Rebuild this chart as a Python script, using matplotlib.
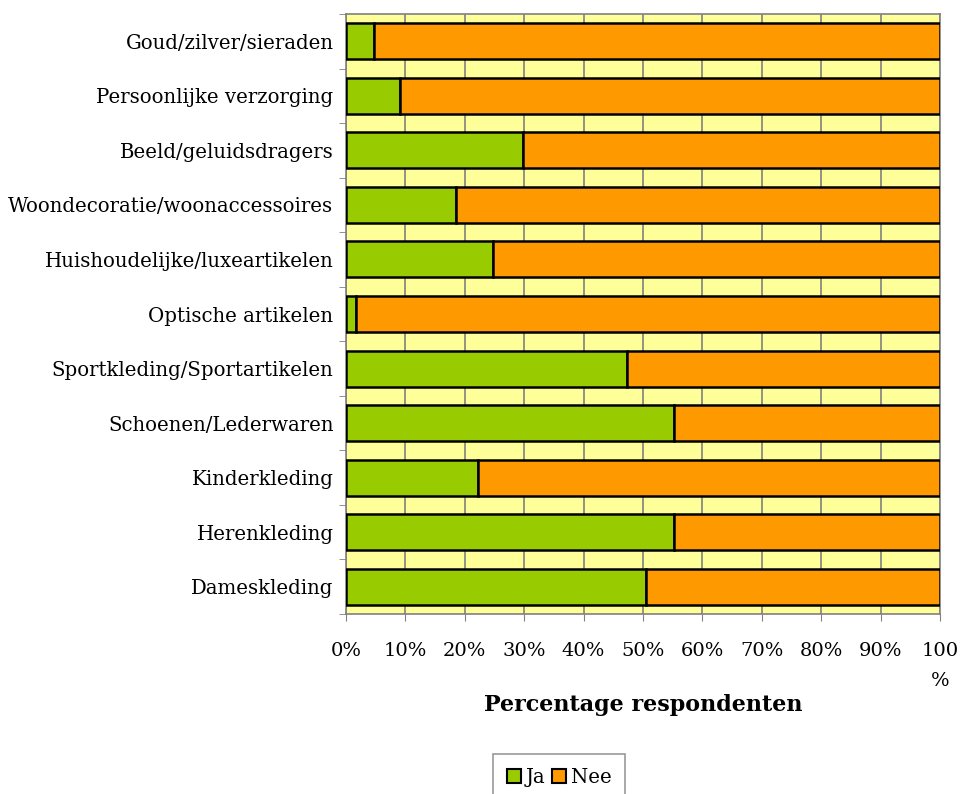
import matplotlib
matplotlib.use("Agg")
import matplotlib.pyplot as plt
from matplotlib.patches import Patch
import numpy as np

plt.rcParams['font.family'] = ['DejaVu Serif']

categories = ["Goud/zilver/sieraden", "Persoonlijke verzorging", "Beeld/geluidsdragers",
              "Woondecoratie/woonaccessoires", "Huishoudelijke/luxeartikelen",
              "Optische artikelen", "Sportkleding/Sportartikelen", "Schoenen/Lederwaren",
              "Kinderkleding", "Herenkleding", "Dameskleding"]
ja = [4.7, 9.1, 29.8, 18.5, 24.7, 1.7, 47.3, 55.3, 22.2, 55.3, 50.5]
nee = [100 - v for v in ja]
xticks = list(range(0, 101, 10))
xticklabels = ["%d%%" % t for t in xticks[:-1]] + ["100\n%"]

green = "#99CC00"
orange = "#FF9900"

fig = plt.figure(figsize=(9.64, 7.94), dpi=100)
ax = fig.add_axes([346 / 964, 1 - 614 / 794, 594 / 964, 600 / 794])
ax.set_facecolor("#FFFF99")

# stacked bars: Ja first, Nee starting where Ja ends
y = np.arange(len(categories))
ax.barh(y, ja, height=0.66, color=green, edgecolor="black", linewidth=1.8, zorder=3)
ax.barh(y, nee, left=ja, height=0.66, color=orange, edgecolor="black", linewidth=1.8, zorder=3)

ax.set_xlim(0, 100)
ax.set_ylim(len(categories) - 0.5, -0.5)
ax.set_xticks(xticks)
ax.set_xticklabels(xticklabels, fontsize=14, linespacing=1.9)
ax.set_yticks(y)
ax.set_yticklabels(categories, fontsize=14.2)
# tick marks sit between the categories
ax.set_yticks(np.arange(-0.5, len(categories)), minor=True)
ax.tick_params(axis="y", which="major", length=0, pad=9)
ax.tick_params(axis="y", which="minor", length=5, color="#808080", direction="out")
ax.tick_params(axis="x", length=5, color="#808080", direction="out", pad=15)
ax.grid(axis="x", color="#808080", linewidth=1.2, zorder=1)
ax.set_axisbelow(True)
for s in ax.spines.values():
    s.set_color("#808080")
    s.set_linewidth(1.2)

ax.set_xlabel("Percentage respondenten", fontsize=16, fontweight="bold")
ax.xaxis.set_label_coords(0.5, -0.133)

handles = [Patch(facecolor=green, edgecolor="black", linewidth=1.5),
           Patch(facecolor=orange, edgecolor="black", linewidth=1.5)]
leg = fig.legend(handles, ["Ja", "Nee"], loc="upper left", bbox_to_anchor=(493 / 964, 1 - 754 / 794),
                 ncol=2, fontsize=14.2, frameon=True, fancybox=False, borderaxespad=0,
                 handlelength=0.7, handleheight=0.7, handletextpad=0.25, columnspacing=0.35,
                 borderpad=0.7)
leg.get_frame().set_edgecolor("#808080")
leg.get_frame().set_linewidth(1.2)

fig.savefig("out.png", dpi=100)
